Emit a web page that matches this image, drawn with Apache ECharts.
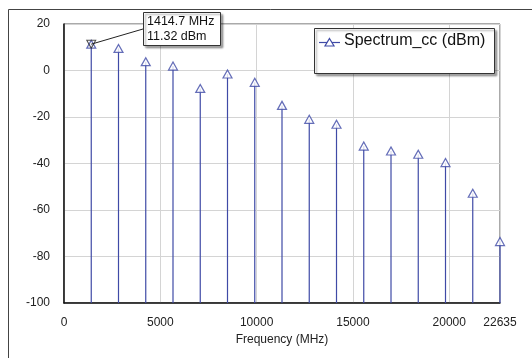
<!DOCTYPE html>
<html lang="en">
<head>
    <meta charset="UTF-8">
    <title>Spectrum_cc</title>
    <style>
        html, body { margin: 0; padding: 0; background: #fff; }
        #chart { width: 532px; height: 358px; }
    </style>
</head>
<body>
<div id="chart"></div>
<script src="https://cdn.jsdelivr.net/npm/echarts@6/dist/echarts.min.js"></script>
<script>
    // harmonics of the fundamental, MHz
    var freqs = [1414.7, 2829.4, 4244.1, 5658.8, 7073.5, 8488.2, 9902.9, 11317.6,
        12732.3, 14147, 15561.7, 16976.4, 18391.1, 19805.8, 21220.5, 22635];
    // level, dBm
    var levels = [11.32, 9.5, 3.8, 1.9, -7.7, -1.5, -5.1, -15,
        -21, -23.1, -32.5, -34.6, -36, -39.6, -52.8, -73.6];
    var xTicks = [0, 5000, 10000, 15000, 20000, 22635];
    var seriesName = 'Spectrum_cc (dBm)';
    var markerText = ['1414.7 MHz', '11.32 dBm'];

    var blue = '#3f4aa6';
    var font = '"Liberation Sans", Arial, sans-serif';

    var pts = freqs.map(function (f, i) { return [f, levels[i]]; });

    var mChart = echarts.init(document.getElementById('chart'));
    var option = {
        animation: false,
        grid: {
            left: 64, top: 24, right: 32, bottom: 55,
            show: true, borderColor: '#555', borderWidth: 1
        },
        xAxis: {
            type: 'value',
            min: 0, max: 22635, interval: 5000,
            name: 'Frequency (MHz)',
            nameLocation: 'middle',
            nameGap: 31,
            nameTextStyle: { fontFamily: font, fontSize: 12, color: '#222' },
            axisLine: { onZero: false, lineStyle: { color: '#111', width: 1.5 } },
            axisTick: { show: false },
            axisLabel: {
                fontFamily: font, fontSize: 12, color: '#222', margin: 14,
                showMaxLabel: true,
                customValues: xTicks,
                formatter: function (v) { return String(v); }
            },
            splitLine: { lineStyle: { color: '#d4d4d4', width: 1 } }
        },
        yAxis: {
            type: 'value',
            min: -100, max: 20, interval: 20,
            axisLine: { show: true, onZero: false, lineStyle: { color: '#111', width: 1.5 } },
            axisTick: { show: false },
            axisLabel: { fontFamily: font, fontSize: 12, color: '#222', margin: 14 },
            splitLine: { lineStyle: { color: '#d4d4d4', width: 1 } }
        },
        series: [
            {
                // stems down to the axis floor
                type: 'custom',
                data: pts,
                renderItem: function (params, api) {
                    var top = api.coord([api.value(0), api.value(1)]);
                    var bot = api.coord([api.value(0), -100]);
                    return {
                        type: 'line',
                        shape: { x1: top[0], y1: top[1], x2: bot[0], y2: bot[1] },
                        style: { stroke: blue, lineWidth: 1.2 }
                    };
                },
                z: 2
            },
            {
                name: seriesName,
                type: 'scatter',
                data: pts,
                symbol: 'triangle',
                symbolSize: [9, 8],
                itemStyle: { color: '#fff', borderColor: blue, borderWidth: 1.2 },
                z: 3
            },
            {
                // selected marker on the fundamental
                type: 'scatter',
                data: [pts[0]],
                symbol: 'triangle',
                symbolRotate: 180,
                symbolSize: [9, 8],
                itemStyle: { color: 'rgba(0,0,0,0)', borderColor: '#222', borderWidth: 1 },
                z: 4
            }
        ]
    };
    mChart.setOption(option);

    // annotation box + leader line, and legend box
    var p0 = mChart.convertToPixel({ gridIndex: 0 }, pts[0]);
    var shadow = { shadowColor: 'rgba(0,0,0,0.35)', shadowOffsetX: 2, shadowOffsetY: 2, shadowBlur: 2 };
    mChart.setOption({
        graphic: [
            // outer frame
            { type: 'line', shape: { x1: 8.5, y1: 9.5, x2: 532, y2: 9.5 }, style: { stroke: '#444', lineWidth: 1 }, z: 10 },
            { type: 'line', shape: { x1: 8.5, y1: 9.5, x2: 8.5, y2: 358 }, style: { stroke: '#444', lineWidth: 1 }, z: 10 },
            // leader
            { type: 'line', shape: { x1: p0[0], y1: p0[1], x2: 143, y2: 29 }, style: { stroke: '#222', lineWidth: 1 }, z: 10 },
            {
                type: 'rect', shape: { x: 143.5, y: 12.5, width: 77, height: 33 },
                style: Object.assign({ fill: '#fff', stroke: '#333', lineWidth: 1 }, shadow), z: 11
            },
            {
                type: 'text', x: 147, y: 14, z: 12,
                style: { text: markerText.join('\n'), font: '12.5px ' + font, fill: '#111', lineHeight: 15 }
            },
            // legend
            {
                type: 'rect', shape: { x: 314.5, y: 28.5, width: 180, height: 45 },
                style: Object.assign({ fill: '#fff', stroke: '#333', lineWidth: 1 }, shadow), z: 11
            },
            { type: 'line', shape: { x1: 319, y1: 42.5, x2: 340, y2: 42.5 }, style: { stroke: blue, lineWidth: 1.2 }, z: 12 },
            {
                type: 'polygon', shape: { points: [[329.5, 38.5], [334, 46], [325, 46]] },
                style: { fill: '#fff', stroke: blue, lineWidth: 1.2 }, z: 13
            },
            {
                type: 'text', x: 344, y: 33, z: 12,
                style: { text: seriesName, font: '16px ' + font, fill: '#111' }
            }
        ]
    });
</script>
</body>
</html>
